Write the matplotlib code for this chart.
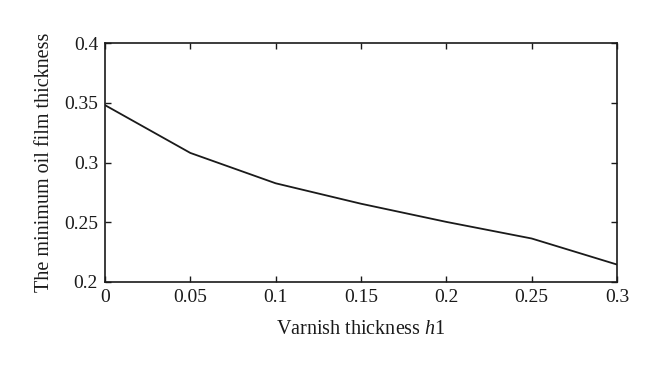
import matplotlib
matplotlib.use("Agg")
import matplotlib.pyplot as plt

varnish = [0, 0.05, 0.1, 0.15, 0.2, 0.25, 0.3]
min_film = [0.348, 0.308, 0.2826, 0.2655, 0.2503, 0.2364, 0.2146]
xticks = [0, 0.05, 0.1, 0.15, 0.2, 0.25, 0.3]
xtick_labels = ["0", "0.05", "0.1", "0.15", "0.2", "0.25", "0.3"]
yticks = [0.2, 0.25, 0.3, 0.35, 0.4]
ytick_labels = ["0.2", "0.25", "0.3", "0.35", "0.4"]

plt.rcParams['font.family'] = ['Liberation Serif', 'DejaVu Serif']
plt.rcParams['mathtext.fontset'] = 'custom'
plt.rcParams['mathtext.it'] = 'Liberation Serif:italic'
plt.rcParams['mathtext.rm'] = 'Liberation Serif'

fig = plt.figure(figsize=(6.6, 3.67), dpi=100)
ax = fig.add_axes([105/660, 1 - 282/367, (617-105)/660, (282-43)/367])
ax.plot(varnish, min_film, color='#1a1a1a', linewidth=1.3)
ax.set_xlim(0, 0.3)
ax.set_ylim(0.2, 0.4)
ax.set_xticks(xticks)
ax.set_xticklabels(xtick_labels)
ax.set_yticks(yticks)
ax.set_yticklabels(ytick_labels)
ax.tick_params(direction='in', top=True, right=True, length=4, width=1,
               labelsize=14, pad=5, colors='#1a1a1a')
for s in ax.spines.values():
    s.set_linewidth(1.2)
    s.set_color('#1a1a1a')
ax.set_xlabel(r"Varnish thickness $h$1", fontsize=14.5, labelpad=10, color='#1a1a1a')
ax.set_ylabel("The minimum oil film thickness", fontsize=14.5, labelpad=7, color='#1a1a1a')
fig.savefig("out.png", dpi=100)
